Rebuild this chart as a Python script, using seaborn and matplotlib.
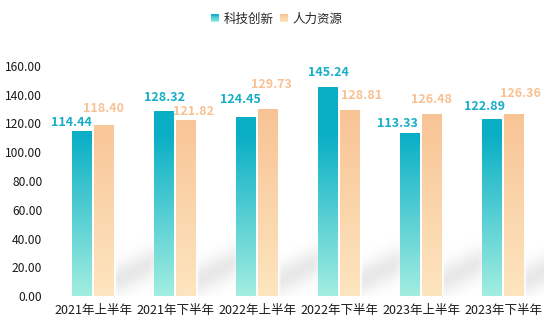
import numpy as np
import pandas as pd
import matplotlib
matplotlib.use('Agg')
import matplotlib.pyplot as plt
import seaborn as sns
from matplotlib.colors import LinearSegmentedColormap, to_rgb
from matplotlib.legend_handler import HandlerBase
from matplotlib.patches import Rectangle

# ---------------- data ----------------
periods = ['2021年上半年', '2021年下半年', '2022年上半年', '2022年下半年', '2023年上半年', '2023年下半年']
series_names = ['科技创新', '人力资源']
tech_values = [114.44, 128.32, 124.45, 145.24, 113.33, 122.89]
hr_values = [118.40, 121.82, 129.73, 128.81, 126.48, 126.36]
y_ticks = [0, 20, 40, 60, 80, 100, 120, 140, 160]

# ---------------- styles ----------------
teal_top, teal_bottom = '#0AAFC6', '#A2EEE0'
orange_top, orange_bottom = '#F8C293', '#FDE5BF'
# label offsets (pixels) to mimic overlap-avoiding label layout
tech_label_off = [(-11, 9), (0, 14), (-6, 18), (0, 15), (-13, 10), (-8, 13)]
hr_label_off = [(0, 17), (8, 9), (4, 25), (12, 15), (0, 15), (7, 21)]

sns.set_theme(style='white')
plt.rcParams['font.family'] = ['Noto Sans CJK SC', 'DejaVu Sans']

df = pd.DataFrame({
    'period': periods * 2,
    'series': [series_names[0]] * len(periods) + [series_names[1]] * len(periods),
    'value': tech_values + hr_values,
})

W, H = 553, 330
fig = plt.figure(figsize=(W / 100, H / 100), dpi=100)
ax = fig.add_axes([52 / W, 34 / H, 492 / W, 230 / H])

sns.barplot(data=df, x='period', y='value', hue='series', order=periods,
            hue_order=series_names, palette=[teal_top, orange_top],
            width=0.53, gap=0.08, legend=False, ax=ax, errorbar=None)

ax.set_xlim(-0.5, len(periods) - 0.5)
ax.set_ylim(0, 160)

bars = list(ax.patches)
tech_bars = bars[:len(periods)]
hr_bars = bars[len(periods):]

teal_cmap = LinearSegmentedColormap.from_list('teal', [teal_bottom, teal_top])
orange_cmap = LinearSegmentedColormap.from_list('orange', [orange_bottom, orange_top])

def gradient_fill(patch, cmap, vmax):
    x0 = patch.get_x()
    w = patch.get_width()
    h = patch.get_height()
    grad = np.linspace(0, h, 256)[:, None]
    ax.imshow(grad, extent=[x0, x0 + w, 0, h], origin='lower', aspect='auto',
              cmap=cmap, vmin=0, vmax=vmax, zorder=3, interpolation='bilinear')
    patch.set_facecolor('none')
    patch.set_edgecolor('none')

for p in tech_bars:
    gradient_fill(p, teal_cmap, 112)
for p in hr_bars:
    gradient_fill(p, orange_cmap, 135)

# soft diagonal shadows behind each group
xs = np.linspace(-0.5, len(periods) - 0.5, 900)
ys = np.linspace(0, 160, 500)
X, Y = np.meshgrid(xs, ys)
A = np.zeros_like(X)

def smooth(t):
    t = np.clip(t, 0, 1)
    return t * t * (3 - 2 * t)

for p in hr_bars:
    xr = p.get_x() + p.get_width()
    d = X - xr
    yc = 10 + 28 * d
    win = smooth(d / 0.05) * (1 - smooth((d - 0.38) / 0.3))
    A = np.maximum(A, win * np.exp(-0.5 * ((Y - yc) / 7.5) ** 2))

rgba = np.zeros(X.shape + (4,))
rgba[..., :3] = 0.55
rgba[..., 3] = 0.2 * A
ax.imshow(rgba, extent=[xs[0], xs[-1], 0, 160], origin='lower', aspect='auto',
          zorder=1, interpolation='bilinear')
ax.set_xlim(-0.5, len(periods) - 0.5)
ax.set_ylim(0, 160)

# value labels
for p, v, (dx, dy) in zip(tech_bars, tech_values, tech_label_off):
    ax.annotate(f'{v:.2f}', (p.get_x() + p.get_width() / 2, p.get_height()),
                xytext=(dx, dy), textcoords='offset pixels', ha='center', va='center',
                fontsize=9, fontweight='bold', color='#16AEC6', zorder=5)
for p, v, (dx, dy) in zip(hr_bars, hr_values, hr_label_off):
    ax.annotate(f'{v:.2f}', (p.get_x() + p.get_width() / 2, p.get_height()),
                xytext=(dx, dy), textcoords='offset pixels', ha='center', va='center',
                fontsize=9, fontweight='bold', color='#F8C193', zorder=5)

ax.set_yticks(y_ticks)
ax.set_yticklabels([f'{v:.2f}' for v in y_ticks])
ax.tick_params(axis='y', length=0, pad=7, labelsize=8.7, labelcolor='#1a1a1a')
ax.tick_params(axis='x', length=0, pad=6, labelsize=9, labelcolor='#1a1a1a')
ax.set_xlabel('')
ax.set_ylabel('')
sns.despine(ax=ax, left=True, bottom=True)
ax.grid(False)


class GradientHandler(HandlerBase):
    def __init__(self, top, bottom, n=10):
        super().__init__()
        self.top = np.array(to_rgb(top))
        self.bottom = np.array(to_rgb(bottom))
        self.n = n

    def create_artists(self, legend, orig_handle, xdescent, ydescent, width, height, fontsize, trans):
        arts = []
        s = min(width, height)
        x0 = -xdescent + (width - s) / 2
        y0 = -ydescent + (height - s) / 2
        for i in range(self.n):
            t = i / (self.n - 1)
            c = self.bottom * (1 - t) + self.top * t
            arts.append(Rectangle((x0, y0 + s * i / self.n), s, s / self.n + 0.3,
                                  facecolor=c, edgecolor='none', transform=trans))
        return arts


h1 = Rectangle((0, 0), 1, 1)
h2 = Rectangle((0, 0), 1, 1)
fig.legend([h1, h2], series_names, loc='center', bbox_to_anchor=(0.5, 1 - 19 / H),
           ncol=2, frameon=False, fontsize=9, handlelength=0.65, handleheight=0.65,
           handletextpad=0.35, columnspacing=0.5,
           handler_map={h1: GradientHandler(teal_top, teal_bottom),
                        h2: GradientHandler(orange_top, orange_bottom)})

fig.savefig('out.png', dpi=100)
